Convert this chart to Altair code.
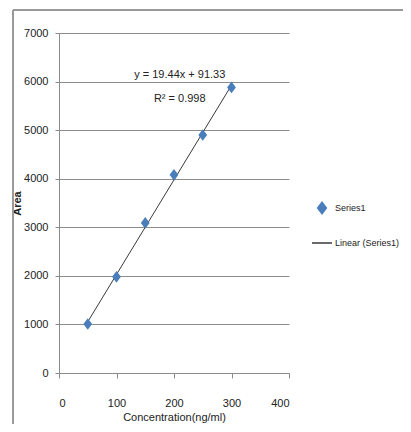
import altair as alt
import pandas as pd

# data
conc = [50, 100, 150, 200, 250, 300]
area = [1010, 1980, 3090, 4080, 4900, 5880]
series_name = "Series1"
trend_name = "Linear (Series1)"
eq_text = ["y = 19.44x + 91.33", "R\u00b2 = 0.998"]
eq_x = [210, 210]
eq_y = [6130, 5650]

df = pd.DataFrame({"x": conc, "y": area, "series": [series_name] * len(conc)})
ann = pd.DataFrame({"x": eq_x, "y": eq_y, "t": eq_text})

FONT = "Liberation Sans"
BLUE = "#4A7EBB"
GRID = "#8C8C8C"
DIAMOND = "M0,-0.58L0.44,0L0,0.58L-0.44,0Z"

xs = alt.Scale(domain=[0, 400], nice=False)
ys = alt.Scale(domain=[0, 7000], nice=False)
dom = [series_name, trend_name]

xax = alt.Axis(values=[0, 100, 200, 300, 400], grid=False, tickSize=5, labelPadding=19,
               format="d", title="Concentration(ng/ml)", titlePadding=3)
yax = alt.Axis(values=list(range(0, 7001, 1000)), grid=True, tickSize=4, labelPadding=7,
               format="d", title="Area", titleFontWeight="bold",
               titleFontSize=11, titlePadding=1)

legend = alt.Legend(title=None, orient="none", legendX=252, legendY=164,
                    symbolSize=400, labelOffset=2, labelLimit=200)

cscale = alt.Scale(domain=dom, range=[BLUE, "#3a3a3a"])
sscale = alt.Scale(domain=dom, range=[DIAMOND, "stroke"])

pts = alt.Chart(df).mark_point(filled=True, opacity=1, size=400).encode(
    x=alt.X("x:Q", scale=xs, axis=xax),
    y=alt.Y("y:Q", scale=ys, axis=yax),
    color=alt.Color("series:N", scale=cscale, legend=legend),
    shape=alt.Shape("series:N", scale=sscale, legend=legend),
)

trend = alt.Chart(df).transform_regression("x", "y").transform_calculate(
    series=f"'{trend_name}'"
).mark_line(strokeWidth=1).encode(
    x=alt.X("x:Q", scale=xs),
    y=alt.Y("y:Q", scale=ys),
    color=alt.Color("series:N", scale=cscale, legend=legend),
)

txt = alt.Chart(ann).mark_text(font=FONT, fontSize=11, color="#222").encode(
    x=alt.X("x:Q", scale=xs), y=alt.Y("y:Q", scale=ys), text="t:N"
)

frame_v = alt.Chart(df).mark_rule(color="#9a9a9a", strokeWidth=1.5).encode(
    x=alt.value(-46), y=alt.value(-23), y2=alt.value(399))
frame_h = alt.Chart(df).mark_rule(color="#9a9a9a", strokeWidth=1.5).encode(
    x=alt.value(-46), x2=alt.value(344), y=alt.value(-23))

chart = alt.layer(trend, pts, txt, frame_v, frame_h).properties(
    width=230, height=340,
    autosize=alt.AutoSizeParams(type="none"),
    padding={"left": 51, "top": 25, "right": 114, "bottom": 51},
).configure_view(stroke=None).configure_axis(
    labelFont=FONT, labelFontSize=11, labelColor="#222",
    titleFont=FONT, titleFontSize=11, titleColor="#222", titleFontWeight="normal",
    domainColor=GRID, tickColor=GRID, gridColor=GRID, gridWidth=1,
).configure_legend(labelFont=FONT, labelFontSize=9, labelColor="#222", rowPadding=15)

chart.save("out.html", embed_options={"renderer": "svg", "actions": False})
